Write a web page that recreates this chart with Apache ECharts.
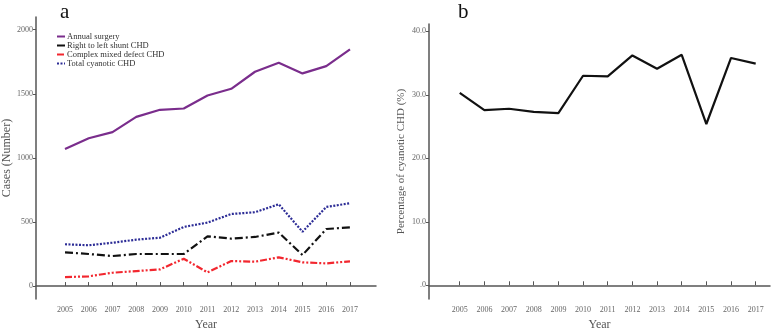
<!DOCTYPE html>
<html>
<head>
<meta charset="utf-8">
<script src="https://cdn.jsdelivr.net/npm/echarts@6/dist/echarts.min.js"></script>
<style>
  html, body { margin: 0; padding: 0; background: #fff; }
  #chart { width: 777px; height: 329px; }
</style>
</head>
<body>
<div id="chart"></div>
<script>
// years on the x axis
const years = [2005, 2006, 2007, 2008, 2009, 2010, 2011, 2012, 2013, 2014, 2015, 2016, 2017]
// panel a: cases
const annualSurgery = [1070, 1153, 1201, 1320, 1375, 1385, 1487, 1539, 1672, 1742, 1659, 1716, 1846]
const rightToLeft   = [263, 250, 234, 250, 250, 250, 388, 370, 383, 417, 242, 445, 458]
const complexMixed  = [70, 76, 104, 117, 130, 213, 107, 195, 190, 224, 185, 177, 193]
const totalCyanotic = [326, 318, 338, 362, 377, 461, 495, 562, 576, 638, 424, 617, 646]
// panel b: percentage of cyanotic CHD
const pctCyanotic   = [30.3, 27.6, 27.8, 27.3, 27.1, 33.0, 32.9, 36.2, 34.1, 36.3, 25.4, 35.8, 34.9]
// tick labels
const casesTicks = [0, 500, 1000, 1500, 2000]
const pctTicks = [0, 10, 20, 30, 40]

const pair = arr => arr.map((v, i) => [years[i], v])

const serif = 'Liberation Serif'
const axisGray = '#555'

let xAxisBase = (min, max, gi) => ({
    type: 'value',
    gridIndex: gi,
    min: min,
    max: max,
    name: 'Year',
    nameLocation: 'middle',
    nameGap: 20,
    nameTextStyle: { fontFamily: serif, fontSize: 12, color: axisGray },
    splitLine: { show: false },
    axisLine: { show: true, lineStyle: { color: axisGray, width: 1.5 } },
    axisTick: { show: true, inside: true, length: 4, customValues: years, lineStyle: { color: axisGray } },
    axisLabel: { customValues: years, fontFamily: serif, fontSize: 8, color: '#666', margin: 7,
        formatter: v => String(v) }
})

let yAxisBase = (min, max, gi, ticks, name, fmt) => ({
    type: 'value',
    gridIndex: gi,
    min: min,
    max: max,
    name: name,
    nameLocation: 'middle',
    nameRotate: 90,
    nameTextStyle: { fontFamily: serif, fontSize: gi === 0 ? 12 : 11, color: axisGray },
    splitLine: { show: false },
    axisLine: { show: true, lineStyle: { color: axisGray, width: 1.5 } },
    axisTick: { show: true, length: 3, customValues: ticks, lineStyle: { color: axisGray } },
    axisLabel: { customValues: ticks, fontFamily: serif, fontSize: 8, color: '#666', margin: 3, formatter: fmt }
})

let chart = echarts.init(document.getElementById('chart'))

const option = {
    animation: false,
    title: [
        { text: 'a', left: 55, top: -3, textStyle: { fontFamily: serif, fontSize: 21, fontWeight: 'normal', color: '#111' } },
        { text: 'b', left: 453, top: -3, textStyle: { fontFamily: serif, fontSize: 21, fontWeight: 'normal', color: '#111' } }
    ],
    legend: {
        orient: 'vertical',
        left: 51,
        top: 27,
        itemWidth: 8,
        itemHeight: 6,
        itemGap: 0,
        itemStyle: { opacity: 0 },
        textStyle: { fontFamily: serif, fontSize: 8.5, lineHeight: 9, color: '#333', padding: [0, 0, 0, -3] },
        data: ['Annual surgery', 'Right to left shunt CHD', 'Complex mixed defect CHD', 'Total cyanotic CHD']
    },
    grid: [
        { left: 36, right: 401, top: 17, bottom: 30, outerBoundsMode: 'none' },
        { left: 429, right: 7, top: 24, bottom: 30, outerBoundsMode: 'none' }
    ],
    xAxis: [
        xAxisBase(2003.779, 2018.095, 0),
        xAxisBase(2003.754, 2017.58, 1)
    ],
    yAxis: [
        Object.assign(yAxisBase(-101, 2099, 0, casesTicks, 'Cases (Number)', v => String(v)), { nameGap: 23 }),
        Object.assign(yAxisBase(-2.16, 41.15, 1, pctTicks, 'Percentage of cyanotic CHD (%)',
            v => v === 0 ? '.0' : v.toFixed(1)), { nameGap: 22 })
    ],
    series: [
        {
            name: 'Annual surgery',
            type: 'line',
            data: pair(annualSurgery),
            symbol: 'none',
            color: '#7a2d8c',
            lineStyle: { width: 2.2 }
        },
        {
            name: 'Right to left shunt CHD',
            type: 'line',
            data: pair(rightToLeft),
            symbol: 'none',
            color: '#111',
            lineStyle: { width: 2.2, type: [8, 3, 2, 3] }
        },
        {
            name: 'Complex mixed defect CHD',
            type: 'line',
            data: pair(complexMixed),
            symbol: 'none',
            color: '#f2272f',
            lineStyle: { width: 2.2, type: [7, 2, 2, 2, 2, 2] }
        },
        {
            name: 'Total cyanotic CHD',
            type: 'line',
            data: pair(totalCyanotic),
            symbol: 'none',
            color: '#2c2c96',
            lineStyle: { width: 2.2, type: [2, 1.5] }
        },
        {
            name: 'Percentage',
            type: 'line',
            xAxisIndex: 1,
            yAxisIndex: 1,
            data: pair(pctCyanotic),
            symbol: 'none',
            color: '#111',
            lineStyle: { width: 2.2 }
        }
    ]
}

chart.setOption(option)
window.onresize = () => {
    chart.resize()
}
</script>
</body>
</html>
